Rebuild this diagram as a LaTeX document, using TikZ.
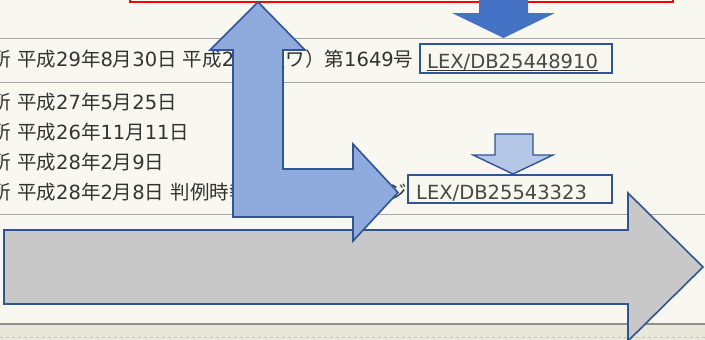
\documentclass[tikz,border=0pt]{standalone}
\usepackage{fontspec}
\setmainfont{DejaVu Sans}
\newfontfamily\jpfont{Noto Sans CJK JP}
\newcommand\J[1]{{\jpfont #1}}
\definecolor{bgc}{HTML}{F8F8F0}
\definecolor{stripc}{HTML}{E8E8DA}
\definecolor{rulec}{HTML}{A8A8A8}
\definecolor{txt}{HTML}{333333}
\definecolor{bord}{HTML}{2F5597}
\definecolor{darkblue}{HTML}{4472C4}
\definecolor{midblue}{HTML}{8FAADC}
\definecolor{lightblue}{HTML}{B4C7E7}
\definecolor{grayfill}{HTML}{C8C8C8}
\tikzset{
  rowtext/.style={anchor=base west, inner sep=0pt, text=txt, font=\fontsize{19.5}{22}\selectfont},
  lextext/.style={anchor=base west, inner sep=0pt, text=txt!90!white, font=\fontsize{19.5}{22}\selectfont},
  lexbox/.style={draw=bord, line width=2pt, fill=bgc, inner sep=0pt, rectangle},
  sep/.style={draw=rulec, line width=1pt},
  blockarrow/.style={draw=bord, line width=1.6pt, line join=miter},
}
\begin{document}
\begin{tikzpicture}[x=1pt,y=-1pt]
\useasboundingbox (0,0) rectangle (705,340);
\clip (0,0) rectangle (705,340);
% background
\fill[bgc] (0,0) rectangle (705,325);
\fill[stripc] (0,325) rectangle (705,340);
\draw[rulec!70!white, line width=1pt, dash pattern=on 3pt off 3pt] (0,337.5) -- (705,337.5);
% separator rules
\draw[sep] (0,38) -- (705,38);
\draw[sep] (0,82) -- (705,82);
\draw[sep] (0,214) -- (705,214);
\draw[rulec!85!black, line width=2pt] (0,324) -- (705,324);
% red frame
\draw[red, line width=2pt, fill=bgc] (130,-10) rectangle (673,2);
% text rows
\node[rowtext] (r1) at (17,66) {\llap{\J{所}\ }\J{平成}29\J{年}8\J{月}30\J{日} \J{平成}29\J{年（ワ）第}1649\J{号}};
\node[rowtext] (r2) at (17,109) {\llap{\J{所}\ }\J{平成}27\J{年}5\J{月}25\J{日}};
\node[rowtext] (r3) at (17,139) {\llap{\J{所}\ }\J{平成}26\J{年}11\J{月}11\J{日}};
\node[rowtext] (r4) at (17,169) {\llap{\J{所}\ }\J{平成}28\J{年}2\J{月}9\J{日}};
\node[rowtext] (r5) at (17,199) {\llap{\J{所}\ }\J{平成}28\J{年}2\J{月}8\J{日} \J{判例時報}};
\node[rowtext, anchor=base east] (r5end) at (407,199) {\J{ジ}};
% LEX boxes
\node[lexbox, minimum width=192pt, minimum height=29pt] (lex1) at (516,58.5) {};
\node[lextext] (t1) at (427,68) {LEX/DB25448910};
\draw[txt, line width=1pt] ([yshift=-2.5pt]t1.base west) -- ([yshift=-2.5pt]t1.base east);
\node[lexbox, minimum width=204pt, minimum height=28pt] (lex2) at (510,189) {};
\node[lextext] (t2) at (416,199) {LEX/DB25543323};
% big gray right arrow
\draw[blockarrow, fill=grayfill] (4,230) -- (628,230) -- (628,193) -- (703,267) -- (628,341) -- (628,304) -- (4,304) -- cycle;
% bent (up and right) arrow
\draw[blockarrow, fill=midblue] (258,2) -- (305,50) -- (283,50) -- (283,169) -- (353,169) -- (353,144) -- (398,192.5) -- (353,241) -- (353,217) -- (233,217) -- (233,50) -- (210,50) -- cycle;
% dark blue down arrow (top right)
\fill[darkblue] (479,-10) -- (528,-10) -- (528,13) -- (555,13) -- (503.5,38) -- (452,13) -- (479,13) -- cycle;
% light blue small down arrow
\draw[blockarrow, line width=1.4pt, fill=lightblue] (495,134) -- (533,134) -- (533,155) -- (553,155) -- (513,174) -- (473,155) -- (495,155) -- cycle;
\end{tikzpicture}
\end{document}
